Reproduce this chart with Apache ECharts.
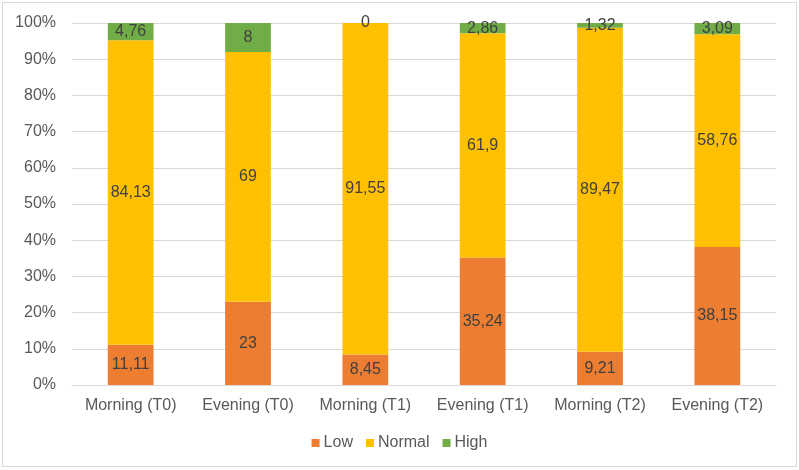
<!DOCTYPE html>
<html><head><meta charset="utf-8">
<script src="https://cdn.jsdelivr.net/npm/echarts@6/dist/echarts.min.js"></script>
<style>html,body{margin:0;padding:0;background:#fff}#c{width:799px;height:470px}
#frame{position:absolute;left:2px;top:2px;width:793px;height:463px;border:1px solid #d9d9d9;pointer-events:none}</style>
</head><body><div id="c"></div><div id="frame"></div>
<script>
const categories = ['Morning (T0)','Evening (T0)','Morning (T1)','Evening (T1)','Morning (T2)','Evening (T2)'];
const low = [11.11, 23, 8.45, 35.24, 9.21, 38.15];
const normal = [84.13, 69, 91.55, 61.9, 89.47, 58.76];
const high = [4.76, 8, 0, 2.86, 1.32, 3.09];
const yTicks = [0,10,20,30,40,50,60,70,80,90,100];

const chart = echarts.init(document.getElementById('c'));
const font = 'Liberation Sans, Arial, sans-serif';
const fmt = p => String(p.value).replace('.', ',');
function s(name, data, color){
  return {name, type:'bar', stack:'t', data, barWidth:'39%',
    itemStyle:{color},
    label:{show:true, position:'inside', formatter:fmt, color:'#404040', fontSize:16, fontFamily:font}};
}
chart.setOption({
  animation:false,
  grid:{left:72, right:23, top:23, bottom:85},
  legend:{top:430, left:'center', icon:'rect', itemWidth:8, itemHeight:8, itemGap:13,
    textStyle:{color:'#595959', fontSize:16, fontFamily:font, padding:[0,0,0,-1]},
    data:['Low','Normal','High']},
  xAxis:{type:'category', data:categories,
    axisLine:{lineStyle:{color:'#d9d9d9'}}, axisTick:{show:false},
    axisLabel:{color:'#595959', fontSize:16, fontFamily:font, margin:13, interval:0}},
  yAxis:{type:'value', min:0, max:100, interval:10,
    axisLabel:{color:'#595959', fontSize:16, fontFamily:font, formatter:v=>v+'%', margin:16},
    splitLine:{lineStyle:{color:'#d9d9d9'}}},
  series:[s('Low', low, '#ED7D31'), s('Normal', normal, '#FFC000'), s('High', high, '#70AD47')]
});
</script></body></html>
